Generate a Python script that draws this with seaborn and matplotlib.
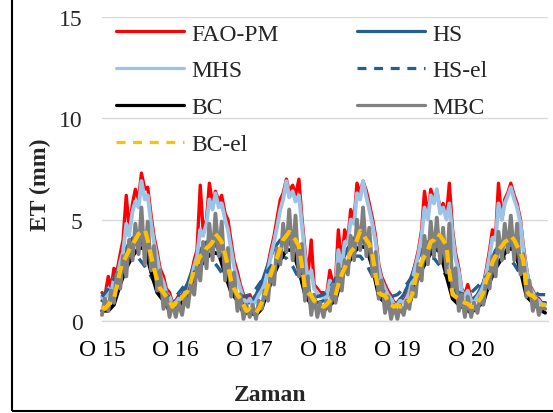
import numpy as np
import pandas as pd
import matplotlib
matplotlib.use("Agg")
import matplotlib.pyplot as plt
import matplotlib.dates as mdates
from matplotlib.patches import Rectangle
import seaborn as sns

# ---------------- data ----------------
# semi-monthly values (1st and 15th of each month), 2015-01-01 ... 2021-01-01
fao_pm = [
    1.4, 1.2, 2.2, 1.6, 2.6, 2.4, 3.3, 4.0, 6.2, 4.6, 5.8, 6.5, 6.0, 7.3, 6.5, 6.6, 5.2, 4.2, 3.4, 2.6, 2.2, 1.6, 1.4, 0.9,
    1.0, 1.25, 1.1, 1.6, 1.4, 2.2, 3.0, 3.5, 6.7, 4.5, 5.0, 6.8, 5.8, 6.4, 5.9, 6.2, 5.3, 5.0, 3.9, 3.0, 2.4, 1.8, 1.3, 1.0,
    1.3, 0.9, 1.1, 1.4, 1.6, 2.0, 2.8, 3.5, 4.2, 5.0, 6.0, 6.3, 7.0, 6.4, 6.7, 6.2, 7.0, 5.2, 3.5, 2.2, 4.0, 1.8, 1.6, 1.4,
    1.4, 1.2, 2.5, 1.9, 2.0, 4.5, 2.8, 4.5, 4.0, 5.5, 5.0, 6.8, 6.3, 6.9, 6.4, 5.8, 5.0, 4.2, 2.8, 2.2, 1.8, 1.5, 1.25, 0.9,
    0.9, 1.1, 1.0, 1.25, 1.5, 2.2, 2.9, 3.5, 4.5, 6.4, 5.2, 6.5, 6.0, 6.4, 5.5, 5.8, 5.2, 6.8, 4.5, 3.4, 2.6, 1.6, 1.3, 1.8,
    1.1, 1.0, 1.3, 1.5, 1.8, 2.5, 3.5, 4.5, 4.2, 6.8, 5.0, 6.0, 6.35, 6.8, 6.2, 5.8, 5.0, 3.7, 2.6, 1.8, 1.5, 1.2, 1.1, 0.9,
    0.9,
]
mhs = [
    1.2, 1.0, 1.6, 1.3, 2.1, 2.0, 2.9, 3.4, 4.8, 4.2, 5.4, 5.9, 5.6, 6.9, 6.0, 6.2, 4.8, 3.9, 3.1, 2.3, 1.9, 1.4, 1.2, 0.8,
    0.9, 1.1, 1.0, 1.4, 1.3, 1.9, 2.7, 3.2, 4.5, 4.2, 4.8, 6.0, 5.5, 6.3, 5.6, 5.8, 5.0, 4.5, 3.5, 2.7, 2.1, 1.6, 1.1, 0.9,
    1.1, 0.8, 1.0, 1.3, 1.5, 1.8, 2.5, 3.2, 3.9, 4.6, 5.5, 6.0, 6.9, 6.1, 6.4, 5.9, 6.2, 4.8, 3.2, 2.0, 2.5, 1.6, 1.4, 1.2,
    1.2, 1.1, 2.0, 1.7, 1.9, 3.5, 2.6, 3.9, 3.8, 5.0, 4.8, 6.3, 6.0, 6.9, 6.1, 5.5, 4.7, 3.9, 2.6, 2.0, 1.6, 1.3, 1.1, 0.8,
    0.8, 1.0, 0.9, 1.1, 1.4, 2.0, 2.7, 3.3, 4.2, 5.6, 5.0, 6.2, 5.8, 6.5, 5.3, 5.6, 5.0, 5.8, 4.2, 3.1, 2.4, 1.5, 1.2, 1.5,
    1.0, 0.9, 1.2, 1.4, 1.7, 2.3, 3.2, 4.1, 4.0, 5.8, 5.0, 5.8, 6.2, 6.6, 6.0, 5.6, 4.8, 3.5, 2.5, 1.7, 1.4, 1.1, 1.0, 0.8,
    0.8,
]
mbc = [
    0.3, 1.1, 0.5, 1.5, 0.9, 2.3, 1.6, 3.2, 2.2, 4.0, 3.0, 4.8, 3.3, 5.6, 2.8, 4.9, 2.5, 3.7, 1.5, 2.5, 0.6, 1.4, 0.2, 0.9,
    0.2, 0.9, 0.3, 1.2, 0.7, 1.8, 1.3, 2.8, 2.0, 3.9, 2.6, 4.8, 3.0, 5.3, 3.2, 4.9, 2.0, 3.6, 1.2, 2.4, 0.5, 1.3, 0.1, 0.8,
    0.2, 0.8, 0.1, 1.0, 0.6, 1.5, 1.0, 2.5, 1.8, 3.6, 2.8, 4.8, 3.4, 5.5, 3.0, 5.2, 2.2, 3.8, 1.0, 2.2, 0.3, 1.3, 0.2, 0.9,
    0.2, 1.0, 0.5, 1.8, 0.9, 2.8, 1.5, 3.0, 2.3, 4.2, 3.0, 5.0, 3.5, 5.6, 3.2, 4.6, 2.2, 3.4, 1.1, 2.0, 0.4, 1.2, 0.1, 0.8,
    0.1, 0.8, 0.3, 1.0, 0.6, 1.7, 1.2, 2.8, 2.0, 4.2, 2.8, 4.9, 3.2, 5.1, 2.9, 4.6, 2.4, 4.8, 1.6, 2.6, 0.5, 1.3, 0.2, 1.2,
    0.2, 0.9, 0.4, 1.2, 0.8, 2.0, 1.6, 3.2, 2.2, 4.4, 3.0, 4.8, 3.4, 5.2, 3.0, 4.8, 2.3, 3.3, 1.2, 2.0, 0.5, 1.2, 0.3, 0.7,
    0.6,
]
bc_el = [
    0.7, 0.6, 0.8, 1.0, 1.1, 1.7, 2.5, 2.9, 3.2, 3.5, 3.8, 4.0, 4.3, 4.4, 4.5, 4.0, 3.2, 2.6, 2.0, 1.6, 1.4, 1.2, 1.0, 0.7,
    0.9, 0.8, 1.2, 1.3, 1.5, 1.9, 2.6, 2.9, 3.2, 3.3, 3.6, 3.7, 3.9, 4.3, 4.1, 3.9, 3.3, 2.7, 2.0, 1.6, 1.3, 1.1, 0.8, 0.5,
    0.6, 0.5, 0.4, 0.6, 0.9, 1.2, 1.8, 2.3, 2.8, 3.1, 3.6, 4.0, 4.2, 4.4, 4.2, 4.0, 3.7, 2.8, 1.6, 1.4, 1.25, 1.0, 0.9, 0.8,
    0.7, 0.8, 1.0, 1.1, 1.25, 1.8, 2.3, 2.6, 3.0, 3.4, 3.6, 4.0, 4.45, 4.3, 4.0, 3.8, 3.2, 2.3, 1.4, 1.3, 1.25, 1.0, 0.8, 0.7,
    0.8, 0.7, 0.8, 0.9, 1.0, 1.3, 2.1, 2.5, 2.9, 3.2, 3.5, 3.9, 4.0, 4.3, 4.2, 4.0, 3.7, 2.4, 1.3, 1.2, 1.1, 1.0, 0.9, 0.85,
    0.7, 0.7, 0.9, 1.1, 1.4, 2.0, 2.4, 2.9, 3.2, 3.5, 3.7, 3.9, 4.0, 4.2, 4.0, 3.7, 3.4, 3.0, 1.5, 1.3, 1.25, 1.1, 0.9, 0.8,
    0.8,
]
# monthly values (1st of each month), 2015-01-01 ... 2021-01-01
bc = [
    0.5, 0.5, 0.8, 1.8, 2.6, 3.2, 3.6, 3.6, 2.4, 1.4, 1.0, 0.5,
    0.6, 0.9, 1.3, 2.2, 2.7, 3.1, 3.4, 3.3, 2.3, 1.4, 1.0, 0.4,
    0.4, 0.3, 0.6, 1.5, 2.3, 3.0, 3.5, 3.5, 2.5, 1.3, 0.8, 0.6,
    0.5, 0.8, 1.0, 2.2, 2.8, 3.4, 3.7, 3.6, 2.6, 1.2, 0.9, 0.5,
    0.4, 0.6, 0.8, 1.8, 2.5, 3.1, 3.6, 3.4, 2.2, 1.1, 0.8, 0.6,
    0.4, 0.7, 0.9, 1.9, 2.6, 3.1, 3.6, 3.5, 2.5, 1.2, 0.9, 0.6,
    0.4,
]
hs = [
    1.0, 1.4, 2.0, 2.9, 3.6, 4.1, 4.1, 3.6, 2.7, 1.8, 1.2, 0.9,
    1.0, 1.3, 1.9, 2.8, 3.5, 3.9, 4.0, 3.5, 2.6, 1.7, 1.2, 0.9,
    0.9, 1.3, 1.9, 2.8, 3.6, 4.0, 4.1, 3.6, 2.7, 1.8, 1.2, 0.9,
    1.0, 1.4, 2.0, 2.9, 3.6, 4.1, 4.1, 3.7, 2.7, 1.8, 1.2, 0.9,
    0.9, 1.3, 1.9, 2.8, 3.5, 3.9, 4.0, 3.5, 2.6, 1.7, 1.2, 0.9,
    1.0, 1.3, 1.9, 2.8, 3.5, 3.9, 4.0, 3.5, 2.6, 1.7, 1.2, 0.9,
    0.9,
]
hs_el = [
    1.2, 1.6, 2.1, 2.5, 2.9, 3.2, 3.1, 2.7, 2.2, 1.7, 1.4, 1.2,
    1.2, 1.6, 2.0, 2.4, 2.8, 3.1, 3.0, 2.6, 2.1, 1.7, 1.4, 1.2,
    1.3, 1.6, 2.0, 2.5, 2.9, 3.2, 3.1, 2.7, 2.1, 1.7, 1.4, 1.2,
    1.3, 1.6, 2.1, 2.5, 2.9, 3.2, 3.2, 2.8, 2.2, 1.7, 1.4, 1.2,
    1.3, 1.6, 2.0, 2.4, 2.8, 3.1, 3.1, 2.7, 2.2, 1.8, 1.4, 1.3,
    1.4, 1.7, 2.0, 2.4, 2.8, 3.1, 3.1, 2.8, 2.3, 1.9, 1.5, 1.3,
    1.3,
]
tick_labels = ["O 15", "O 16", "O 17", "O 18", "O 19", "O 20", ""]
y_ticks = [0, 5, 10, 15]

dates_half = pd.date_range("2015-01-01", "2021-01-01", freq="SMS")
dates_month = pd.date_range("2015-01-01", "2021-01-01", freq="MS")
tick_dates = pd.date_range("2015-01-01", "2021-01-01", freq="YS")

df_half = pd.DataFrame({"date": dates_half, "FAO-PM": fao_pm, "MHS": mhs,
                        "MBC": mbc, "BC-el": bc_el})
df_month = pd.DataFrame({"date": dates_month, "HS": hs, "HS-el": hs_el, "BC": bc})

# ---------------- plot ----------------
sns.set_theme(style="white")
plt.rcParams["font.family"] = ["Liberation Serif", "DejaVu Serif"]

W, H = 553, 414
fig = plt.figure(figsize=(W / 100, H / 100), dpi=100)
ax = fig.add_axes([102 / W, 1 - 322 / H, (548 - 102) / W, (322 - 18) / H])

FS = 17
series = [
    ("FAO-PM", df_half, "#FF0000", "-", 2.4),
    ("HS", df_month, "#255E91", "-", 2.4),
    ("MHS", df_half, "#9DC3E6", "-", 2.8),
    ("HS-el", df_month, "#255E91", (0, (3.2, 2.6)), 2.4),
    ("BC", df_month, "#000000", "-", 2.6),
    ("MBC", df_half, "#808080", "-", 2.8),
    ("BC-el", df_half, "#FFC000", (0, (3.0, 1.6)), 3.0),
]
handles = {}
for name, d, col, ls, lw in series:
    sns.lineplot(data=d, x="date", y=name, ax=ax, color=col, linewidth=lw,
                 linestyle=ls, estimator=None, label=name, legend=False,
                 clip_on=False)
    handles[name] = ax.lines[-1]

ax.set_ylim(0, 15)
ax.set_xlim(pd.Timestamp("2015-01-01"), pd.Timestamp("2021-01-15"))
ax.set_yticks(y_ticks)
ax.set_yticklabels([str(v) for v in y_ticks], fontsize=FS)
ax.set_xticks(tick_dates)
ax.set_xticklabels(tick_labels, fontsize=FS)
ax.grid(axis="y", color="#D9D9D9", linewidth=1.0)
ax.set_axisbelow(True)
for s in ["top", "right", "left"]:
    ax.spines[s].set_visible(False)
ax.spines["bottom"].set_color("#D9D9D9")
ax.spines["bottom"].set_linewidth(1.0)
ax.tick_params(axis="x", length=4, width=1, color="#D9D9D9", pad=9, labelcolor="black")
ax.tick_params(axis="y", length=0, pad=14)
ax.set_xlabel("")
ax.set_ylabel("")

order = ["FAO-PM", "MHS", "BC", "BC-el", "HS", "HS-el", "MBC"]
leg_handles = []
for n in order:
    h = handles[n]
    lh = matplotlib.lines.Line2D([], [], color=h.get_color(), linewidth=2.3,
                                 linestyle=h.get_linestyle())
    if n in ("HS-el", "BC-el"):
        lh.set_linestyle((0, (2.8, 2.4)))
    leg_handles.append(lh)
leg = ax.legend(leg_handles, order, ncol=2, frameon=False,
                fontsize=FS, loc="upper left",
                bbox_to_anchor=(116 / W, 1 - 24 / H), bbox_transform=fig.transFigure,
                borderaxespad=0, borderpad=0, handlelength=2.9, handletextpad=0.3,
                columnspacing=3.3, labelspacing=0.65)

fig.text(40 / W, 1 - 185 / H, "ET (mm)", rotation=90, ha="center", va="center",
         fontsize=FS, fontweight="bold")
fig.text(270 / W, 1 - 396 / H, "Zaman", ha="center", va="center",
         fontsize=FS, fontweight="bold")

fig.add_artist(Rectangle((12 / W, 2.5 / H), 1.2, 1.2, transform=fig.transFigure,
                         fill=False, edgecolor="black", linewidth=1.5))

fig.savefig("out.png", dpi=100)
